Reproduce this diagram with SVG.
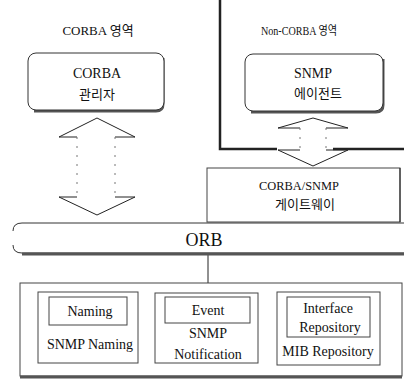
<svg xmlns="http://www.w3.org/2000/svg" width="404" height="380" viewBox="0 0 404 380">
<style>
.t{font-family:"Liberation Serif","Noto Sans CJK KR",serif;fill:#111;text-anchor:middle}
.box{fill:#fff;stroke:#333;stroke-width:1}
.sh{fill:none;stroke:#555;stroke-width:3}
.ln{fill:none;stroke:#222;stroke-width:1}
.dash{fill:none;stroke:#777;stroke-width:1;stroke-dasharray:2,7}
.thick{fill:none;stroke:#222;stroke-width:2.5}
.dbox{fill:#fff;stroke:#444;stroke-width:1}
</style>
<rect width="404" height="380" fill="#fff"/>
<g id="labels">
<text class="t" x="98" y="35" font-size="13">CORBA 영역</text>
<text class="t" x="299" y="35" font-size="12" textLength="76" lengthAdjust="spacingAndGlyphs">Non-CORBA 영역</text>
</g>
<g id="boundary">
<path class="thick" d="M220 0 V149 H277 M333 149 H404"/>
</g>
<g id="corba-manager">
<path class="sh" d="M163 58 V104 Q163 111 156 111 H34"/>
<rect class="box" x="28" y="53" width="136" height="57" rx="8"/>
<text class="t" x="97" y="78" font-size="14">CORBA</text>
<text class="t" x="97" y="99" font-size="13">관리자</text>
</g>
<g id="snmp-agent">
<path class="sh" d="M383 59 V105 Q383 112 376 112 H251"/>
<rect class="box" x="245" y="54" width="138" height="57" rx="8"/>
<text class="t" x="313" y="78" font-size="14" textLength="38" lengthAdjust="spacingAndGlyphs">SNMP</text>
<text class="t" x="318" y="98" font-size="13">에이전트</text>
</g>
<g id="connectors">
<path class="ln" d="M77 137 H59 L97 118 L135 137 H115 M77 197 H59 L97 215 L135 197 H115"/>
<path class="dash" d="M77 137 V197 M115 137 V197"/>
<path class="ln" d="M300 128 H278 L313 118 L348 128 H326 M300 150 H278 L313 166 L348 150 H326"/>
<path class="dash" d="M300 128 V150 M326 128 V150"/>
<path class="ln" d="M208 254 V284" stroke-width="1.5"/>
</g>
<g id="gateway">
<rect class="dbox" x="207" y="168" width="193" height="54"/>
<path class="ln" d="M400 168 V222" stroke-width="2"/>
<text class="t" x="299" y="190" font-size="13" textLength="80" lengthAdjust="spacingAndGlyphs">CORBA/SNMP</text>
<text class="t" x="305" y="209" font-size="13">게이트웨이</text>
</g>
<g id="orb">
<path d="M404 223 H22 Q13 223 13 231 M13 245 Q13 253 22 253 H404" fill="none" stroke="#333" stroke-width="1"/>
<path class="sh" d="M22 254 H404" stroke-width="2.5"/>
<text class="t" x="204" y="246" font-size="18">ORB</text>
</g>
<g id="services">
<rect class="dbox" x="20" y="283" width="382" height="93"/>
<path class="sh" d="M20 377 H402" stroke-width="2.5"/>
</g>
<g id="snmp-naming">
<rect class="dbox" x="38" y="292" width="100" height="71"/>
<rect class="dbox" x="49" y="297" width="78" height="28"/>
<text class="t" x="90" y="316" font-size="14">Naming</text>
<text class="t" x="90" y="349" font-size="14">SNMP Naming</text>
</g>
<g id="snmp-notification">
<rect class="dbox" x="155" y="293" width="103" height="70"/>
<rect class="dbox" x="165" y="297" width="85" height="26"/>
<text class="t" x="208" y="315" font-size="14">Event</text>
<text class="t" x="208" y="338" font-size="14">SNMP</text>
<text class="t" x="208" y="359" font-size="14">Notification</text>
</g>
<g id="mib-repository">
<rect class="dbox" x="277" y="292" width="103" height="73"/>
<rect class="dbox" x="287" y="297" width="83" height="40"/>
<text class="t" x="328" y="313" font-size="14">Interface</text>
<text class="t" x="330" y="332" font-size="14">Repository</text>
<text class="t" x="328" y="356" font-size="14">MIB Repository</text>
</g>
</svg>
